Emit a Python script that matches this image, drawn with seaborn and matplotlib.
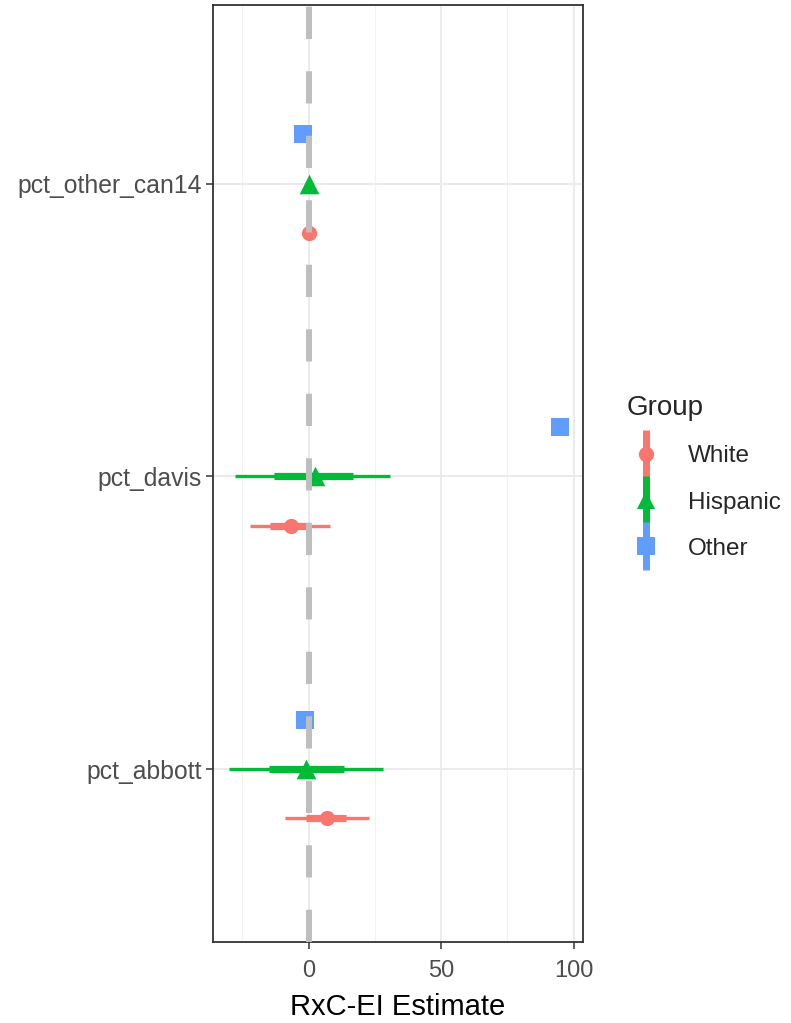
import matplotlib
matplotlib.use("Agg")
import matplotlib.pyplot as plt
from matplotlib.lines import Line2D
from matplotlib.legend_handler import HandlerTuple
import seaborn as sns
import pandas as pd
import numpy as np

# ---- data ----
candidates = ["pct_abbott", "pct_davis", "pct_other_can14"]
groups = ["White", "Hispanic", "Other"]

white_est = [6.9, -6.5, 0.0]
white_lo95 = [-9.0, -22.0, -1.5]
white_hi95 = [22.6, 8.2, 1.5]
white_lo50 = [-0.9, -14.5, -0.7]
white_hi50 = [14.2, 0.6, 0.7]

hisp_est = [-0.9, 2.2, 0.0]
hisp_lo95 = [-30.2, -27.9, -1.0]
hisp_hi95 = [28.1, 30.8, 1.0]
hisp_lo50 = [-15.1, -12.9, -0.5]
hisp_hi50 = [13.5, 16.7, 0.5]

other_est = [-1.5, 94.8, -2.3]
other_lo95 = [-1.5, 94.8, -2.3]
other_hi95 = [-1.5, 94.8, -2.3]
other_lo50 = [-1.5, 94.8, -2.3]
other_hi50 = [-1.5, 94.8, -2.3]

colors = {"White": "#F8766D", "Hispanic": "#00BA38", "Other": "#619CFF"}
markers = {"White": "o", "Hispanic": "^", "Other": "s"}
offsets = {"White": -0.168, "Hispanic": 0.0, "Other": 0.168}

rows = []
for g, est, lo95, hi95, lo50, hi50 in [
    ("White", white_est, white_lo95, white_hi95, white_lo50, white_hi50),
    ("Hispanic", hisp_est, hisp_lo95, hisp_hi95, hisp_lo50, hisp_hi50),
    ("Other", other_est, other_lo95, other_hi95, other_lo50, other_hi50),
]:
    for i, c in enumerate(candidates):
        rows.append(dict(Group=g, cand=c, pos=i + 1 + offsets[g], est=est[i],
                         lo95=lo95[i], hi95=hi95[i], lo50=lo50[i], hi50=hi50[i]))
df = pd.DataFrame(rows)

sns.set_theme(style="white")
plt.rcParams["font.family"] = ["Liberation Sans", "DejaVu Sans"]

fig = plt.figure(figsize=(7.91, 10.23), dpi=100)
ax = fig.add_axes([213 / 791, 81 / 1023, 370 / 791, 937 / 1023])

# grid
for v in [-25, 25, 75]:
    ax.axvline(v, color="#F2F2F2", lw=0.8, zorder=0)
for v in [0, 50, 100]:
    ax.axvline(v, color="#EBEBEB", lw=1.4, zorder=0)
for v in [1, 2, 3]:
    ax.axhline(v, color="#EBEBEB", lw=1.4, zorder=0)

# intervals
for g in groups:
    d = df[df.Group == g]
    ax.hlines(d.pos, d.lo95, d.hi95, color=colors[g], lw=2.4, zorder=2)
    ax.hlines(d.pos, d.lo50, d.hi50, color=colors[g], lw=5.2, zorder=2)

sizes = {"White": 120, "Hispanic": 200, "Other": 180}
for g in groups:
    d = df[df.Group == g]
    sns.scatterplot(data=d, x="est", y="pos", color=colors[g], marker=markers[g],
                    s=sizes[g], linewidth=0, ax=ax, zorder=3, legend=False)

ax.axvline(0, color="#BEBEBE", lw=4.3, linestyle=(0, (5.4, 5.4)), zorder=4)

ax.set_xlim(-36.1, 103.5)
ax.set_ylim(0.41, 3.61)
ax.set_yticks([1, 2, 3])
ax.set_yticklabels(candidates)
ax.set_xticks([0, 50, 100])
ax.set_xticklabels(["0", "50", "100"])
ax.set_xlabel("RxC-EI Estimate", fontsize=21, color="black", labelpad=8)
ax.set_ylabel("")
ax.tick_params(axis="y", which="both", length=5, width=1.1, color="#333333",
               labelcolor="#4D4D4D", labelsize=17.8, pad=3, left=True)
ax.tick_params(axis="x", which="both", length=5, width=1.1, color="#333333",
               labelcolor="#4D4D4D", labelsize=17, pad=8, bottom=True)
for s in ax.spines.values():
    s.set_visible(True)
    s.set_color("#333333")
    s.set_linewidth(1.3)

handles = []
for g in groups:
    vline = Line2D([], [], marker="|", markersize=34, markeredgewidth=5,
                   color=colors[g], linestyle="none")
    pt = Line2D([], [], marker=markers[g], markersize=13 if g != "White" else 11,
                color=colors[g], linestyle="none", markeredgewidth=0)
    handles.append((vline, pt))
leg = fig.legend(handles, groups, handler_map={tuple: HandlerTuple(ndivide=1)},
                 loc="upper left", bbox_to_anchor=(605 / 791, 1 - 373 / 1023),
                 frameon=False, title="Group", fontsize=17.5, title_fontsize=20,
                 labelspacing=1.0, handlelength=1.6, handletextpad=0.9,
                 alignment="left")

fig.savefig("out.png", dpi=100)
